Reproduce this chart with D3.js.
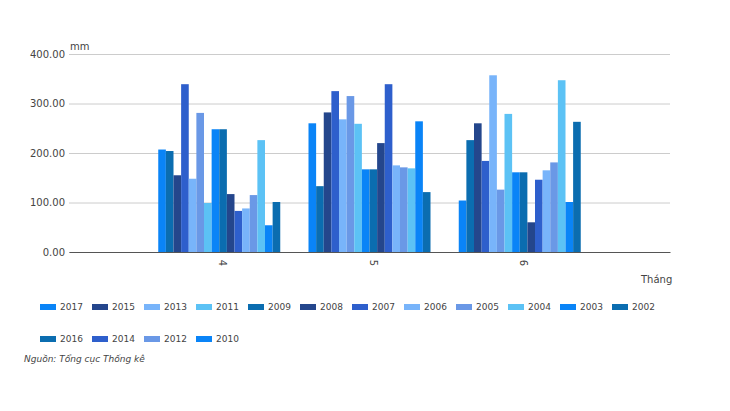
<!DOCTYPE html>
<html>
<head>
<meta charset="utf-8">
<script src="https://cdn.jsdelivr.net/npm/d3@7/dist/d3.min.js"></script>
<style>
  body { margin: 0; background: #fff; }
  text { font-family: "DejaVu Sans", Verdana, sans-serif; fill: #444; }
</style>
</head>
<body>
<svg id="chart" width="730" height="411"></svg>
<script>
var months = [4, 5, 6];
// bars drawn in this order within each month
var years = [2017, 2016, 2015, 2014, 2013, 2012, 2011, 2010, 2009, 2008, 2007, 2006, 2005, 2004, 2003, 2002];
var rain4 = [207, 204, 155, 339, 148, 281, 99, 248, 248, 117, 83, 88, 115, 226, 54, 101];
var rain5 = [260, 133, 282, 325, 268, 315, 259, 167, 167, 220, 339, 175, 171, 169, 264, 121];
var rain6 = [104, 226, 260, 184, 357, 126, 279, 161, 161, 60, 146, 165, 181, 347, 101, 263];
var legendOrder = [2017, 2015, 2013, 2011, 2009, 2008, 2007, 2006, 2005, 2004, 2003, 2002, 2016, 2014, 2012, 2010];
var yTicks = [0, 100, 200, 300, 400];
var palette = ['#0a84f7', '#0b6db0', '#24468c', '#2e5fcc', '#78b4fa', '#6a98e6', '#5cc2f5'];

(function() {
  var rain = [rain4, rain5, rain6];
  var svg = d3.select('#chart');
  var plotLeft = 69, plotRight = 670, plotTop = 54, plotBottom = 252;

  var x = d3.scaleLinear().domain([3, 7]).range([plotLeft, plotRight]);
  var y = d3.scaleLinear().domain([0, 400]).range([plotBottom, plotTop]);
  var inner = d3.scaleBand().domain(years).range([-61, 61]).padding(0);
  var color = d3.scaleOrdinal().domain(years).range(palette);

  // grid + y labels
  var yAxis = svg.append('g').attr('transform', 'translate(' + plotLeft + ',0)')
    .call(d3.axisLeft(y).tickValues(yTicks).tickSize(-(plotRight - plotLeft)).tickPadding(4).tickFormat(d3.format('.2f')));
  yAxis.select('.domain').remove();
  yAxis.selectAll('line').attr('stroke', '#ccc');
  yAxis.selectAll('text').style('font-size', '10px').attr('fill', '#444');

  // bars
  svg.selectAll('.month').data(months).enter().append('g')
    .attr('class', 'month')
    .attr('transform', function(m) { return 'translate(' + x(m) + ',0)'; })
    .selectAll('rect').data(function(m, i) {
      return years.map(function(yr, j) { return { year: yr, value: rain[i][j] }; });
    }).enter().append('rect')
    .attr('x', function(d) { return inner(d.year); })
    .attr('width', inner.bandwidth())
    .attr('y', function(d) { return y(d.value); })
    .attr('height', function(d) { return plotBottom - y(d.value); })
    .attr('fill', function(d) { return color(d.year); });

  // x axis
  var xAxis = svg.append('g').attr('transform', 'translate(0,' + plotBottom + ')')
    .call(d3.axisBottom(x).tickValues(months).tickSize(0).tickFormat(d3.format('d')));
  xAxis.select('.domain').attr('stroke', '#555');
  xAxis.selectAll('text').style('font-size', '10px')
    .attr('transform', 'rotate(90)').attr('x', 11).attr('y', -3).attr('dy', '0.35em')
    .style('text-anchor', 'middle');

  svg.append('text').attr('x', 70).attr('y', 50).style('font-size', '10px').text('mm');
  svg.append('text').attr('x', 641).attr('y', 283).style('font-size', '10px').text('Tháng');

  // legend
  var legend = svg.selectAll('.leg').data(legendOrder).enter().append('g')
    .attr('class', 'leg')
    .attr('transform', function(d, i) {
      return 'translate(' + (40 + (i % 12) * 52) + ',' + (i < 12 ? 304 : 336) + ')';
    });
  legend.append('rect').attr('width', 16).attr('height', 6).attr('fill', function(d) { return color(d); });
  legend.append('text').attr('x', 20).attr('y', 6).style('font-size', '9px').text(function(d) { return d; });

  svg.append('text').attr('x', 24).attr('y', 362).style('font-size', '9px')
    .style('font-style', 'italic').text('Nguồn: Tổng cục Thống kê');
})();
</script>
</body>
</html>
